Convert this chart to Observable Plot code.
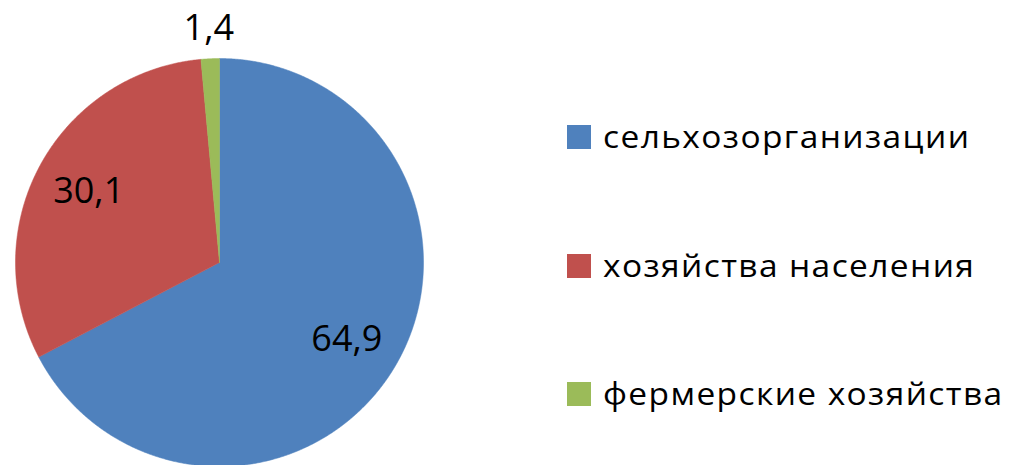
<!DOCTYPE html>
<html><head><meta charset="utf-8">
<script src="https://cdn.jsdelivr.net/npm/d3@7"></script>
<script src="https://cdn.jsdelivr.net/npm/@observablehq/plot@0.6"></script>
<style>
body{margin:0;background:#fff;font-family:"Open Sans",sans-serif}
#wrap{position:relative;width:1016px;height:465px;overflow:hidden;background:#fff}
#chart{position:absolute;left:0;top:0}
#legend{position:absolute;left:567px;top:0;width:449px;height:465px}
.item{position:absolute;left:0;display:flex;align-items:center;white-space:nowrap;font-size:31px;line-height:41px;color:#000}
.item .tx{display:inline-block;letter-spacing:1.3px;transform:scaleX(1.08);transform-origin:0 50%}
.sw{width:24px;height:24px;margin-right:12px;flex:none}
</style></head>
<body><div id="wrap"><div id="chart"></div><div id="legend"></div></div>
<script>
const categories = ["сельхозорганизации", "хозяйства населения", "фермерские хозяйства"];
const values = [64.9, 30.1, 1.4];
const valueLabels = ["64,9", "30,1", "1,4"];
const colors = ["#4F81BD", "#C0504D", "#9BBB59"];

// layout (pixels)
const W = 560, H = 465, CX = 219, CY = 262, R = 204;

const data = categories.map((c, i) => ({cat: c, value: values[i], label: valueLabels[i]}));
const arcs = d3.pie().sort(null).value(d => d.value).startAngle(0).endAngle(2 * Math.PI)(data);
const total = d3.sum(values);

const slicePts = [];
arcs.forEach(a => {
  slicePts.push({cat: a.data.cat, x: 0, y: 0});
  const n = Math.max(2, Math.ceil((a.endAngle - a.startAngle) / 0.005));
  for (let k = 0; k <= n; k++) {
    const t = a.startAngle + (a.endAngle - a.startAngle) * k / n;
    slicePts.push({cat: a.data.cat, x: Math.sin(t), y: Math.cos(t)});
  }
  slicePts.push({cat: a.data.cat, x: 0, y: 0});
});

const labelPts = arcs.map(a => {
  const mid = (a.startAngle + a.endAngle) / 2;
  const rr = a.data.value / total < 0.05 ? 1.15 : 0.73;
  return {label: a.data.label, x: Math.sin(mid) * rr, y: Math.cos(mid) * rr};
});

const plot = Plot.plot({
  width: W, height: H, margin: 0,
  x: {domain: [-CX / R, (W - CX) / R], axis: null},
  y: {domain: [-(H - CY) / R, CY / R], axis: null},
  color: {domain: categories, range: colors},
  style: {background: "#fff", fontFamily: "'Open Sans', sans-serif"},
  marks: [
    Plot.line(slicePts, {x: "x", y: "y", z: "cat", fill: "cat", stroke: "cat", strokeWidth: 0.5, curve: "linear"}),
    Plot.text(labelPts, {x: "x", y: "y", text: "label", fontSize: 36, fill: "#000"})
  ]
});
document.getElementById("chart").appendChild(plot);

const legendTops = [116, 245, 373];
const legend = document.getElementById("legend");
categories.forEach((c, i) => {
  const it = document.createElement("div");
  it.className = "item";
  it.style.top = legendTops[i] + "px";
  const sw = document.createElement("span");
  sw.className = "sw";
  sw.style.background = colors[i];
  const tx = document.createElement("span");
  tx.className = "tx";
  tx.textContent = c;
  it.appendChild(sw); it.appendChild(tx);
  legend.appendChild(it);
});
</script>
</body></html>
